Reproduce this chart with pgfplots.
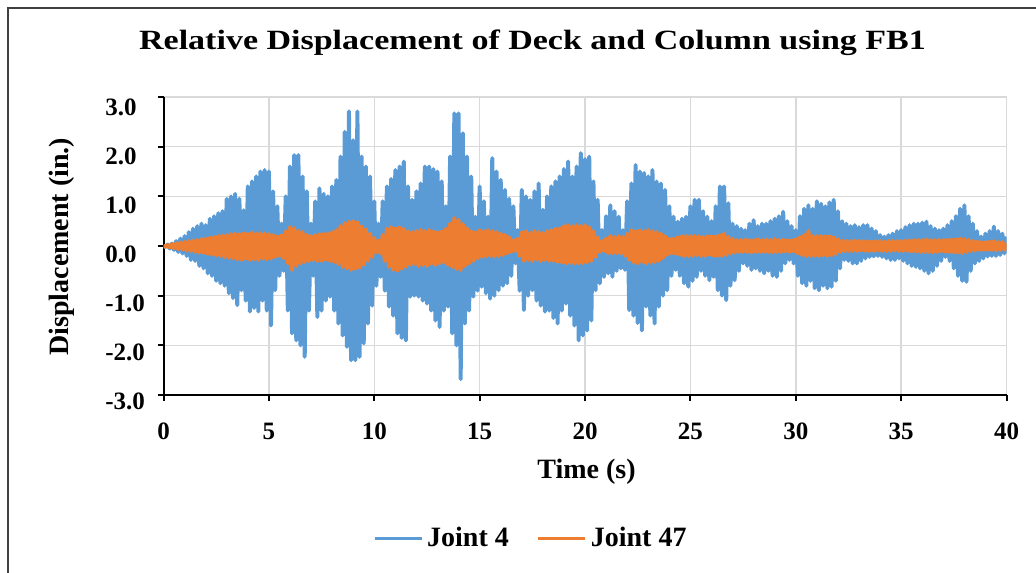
\documentclass[border=0pt]{standalone}
\usepackage{pgfplots}
\pgfplotsset{compat=1.18}
\usepackage{pgfplotstable}
\usepackage{fontspec}
\setmainfont{Liberation Serif}
\definecolor{jblue}{RGB}{91,155,213}
\definecolor{jorange}{RGB}{237,125,49}
\definecolor{gridgray}{RGB}{217,217,217}
\definecolor{framegray}{RGB}{64,64,64}

\pgfplotstableread{
t j4 j47
0.0 0 0
0.1 -0.02 -0.01
0.2 0.03 0.02
0.3 -0.05 -0.03
0.4 0.05 0.04
0.5 -0.08 -0.04
0.6 0.10 0.05
0.7 -0.12 -0.06
0.8 0.15 0.07
0.9 -0.15 -0.07
1.0 0.20 0.08
1.1 -0.20 -0.09
1.2 0.28 0.10
1.3 -0.28 -0.10
1.4 0.35 0.11
1.5 -0.30 -0.12
1.6 0.40 0.12
1.7 -0.40 -0.13
1.8 0.45 0.14
1.9 -0.45 -0.14
2.0 0.42 0.15
2.1 -0.55 -0.16
2.2 0.55 0.17
2.3 -0.60 -0.17
2.4 0.60 0.18
2.5 -0.70 -0.19
2.6 0.66 0.20
2.7 -0.75 -0.20
2.8 0.70 0.21
2.9 -0.80 -0.22
3.0 0.95 0.22
3.1 -0.95 -0.24
3.2 1.00 0.24
3.3 -1.05 -0.25
3.4 1.05 0.25
3.5 -1.19 -0.27
3.6 0.95 0.24
3.7 -0.89 -0.28
3.8 0.72 0.26
3.9 -1.10 -0.26
4.0 1.20 0.25
4.1 -1.32 -0.28
4.2 1.30 0.27
4.3 -1.25 -0.27
4.4 1.40 0.25
4.5 -1.32 -0.28
4.6 1.50 0.26
4.7 -1.10 -0.25
4.8 1.53 0.25
4.9 -1.30 -0.27
5.0 1.50 0.24
5.1 -1.60 -0.25
5.2 1.10 0.22
5.3 -0.89 -0.22
5.4 0.80 0.20
5.5 -0.60 -0.20
5.6 0.45 0.22
5.7 -0.50 -0.25
5.8 1.00 0.30
5.9 -1.30 -0.35
6.0 1.60 0.38
6.1 -1.76 -0.48
6.2 1.83 0.36
6.3 -1.90 -0.40
6.4 1.83 0.30
6.5 -2.00 -0.35
6.6 1.40 0.28
6.7 -2.23 -0.32
6.8 1.10 0.22
6.9 -1.30 -0.30
7.0 0.45 0.20
7.1 -0.60 -0.28
7.2 0.90 0.22
7.3 -1.43 -0.30
7.4 1.16 0.24
7.5 -1.30 -0.30
7.6 1.05 0.25
7.7 -1.10 -0.28
7.8 1.00 0.25
7.9 -1.02 -0.30
8.0 1.20 0.28
8.1 -1.30 -0.32
8.2 1.33 0.32
8.3 -1.56 -0.36
8.4 1.80 0.40
8.5 -1.80 -0.42
8.6 2.30 0.46
8.7 -2.03 -0.45
8.8 2.71 0.49
8.9 -2.30 -0.48
9.0 2.13 0.50
9.1 -2.30 -0.46
9.2 2.71 0.48
9.3 -2.23 -0.44
9.4 1.80 0.40
9.5 -1.96 -0.38
9.6 1.60 0.34
9.7 -1.56 -0.30
9.8 1.40 0.25
9.9 -1.20 -0.22
10.0 0.90 0.16
10.1 -0.80 -0.12
10.2 0.45 0.10
10.3 -0.62 -0.15
10.4 0.90 0.22
10.5 -0.90 -0.30
10.6 1.20 0.35
10.7 -1.22 -0.42
10.8 1.35 0.38
10.9 -1.40 -0.48
11.0 1.53 0.36
11.1 -1.76 -0.50
11.2 1.60 0.38
11.3 -1.85 -0.46
11.4 1.70 0.35
11.5 -1.90 -0.42
11.6 1.20 0.30
11.7 -1.02 -0.38
11.8 0.93 0.28
11.9 -1.00 -0.36
12.0 1.10 0.30
12.1 -1.02 -0.40
12.2 1.26 0.32
12.3 -1.10 -0.38
12.4 1.60 0.30
12.5 -1.16 -0.40
12.6 1.60 0.32
12.7 -1.30 -0.36
12.8 1.55 0.30
12.9 -1.50 -0.38
13.0 1.50 0.28
13.1 -1.63 -0.35
13.2 1.30 0.30
13.3 -1.30 -0.33
13.4 0.80 0.35
13.5 -1.22 -0.38
13.6 1.80 0.45
13.7 -1.76 -0.42
13.8 2.67 0.56
13.9 -2.00 -0.46
14.0 2.67 0.52
14.1 -2.68 -0.48
14.2 2.27 0.44
14.3 -1.56 -0.40
14.4 1.80 0.36
14.5 -1.30 -0.35
14.6 1.40 0.30
14.7 -1.02 -0.30
14.8 0.59 0.28
14.9 -0.90 -0.25
15.0 1.20 0.32
15.1 -0.82 -0.22
15.2 0.90 0.30
15.3 -0.95 -0.21
15.4 0.59 0.32
15.5 -1.06 -0.20
15.6 1.77 0.30
15.7 -1.00 -0.21
15.8 1.50 0.28
15.9 -0.89 -0.20
16.0 1.33 0.25
16.1 -0.80 -0.18
16.2 1.13 0.22
16.3 -0.75 -0.15
16.4 0.95 0.18
16.5 -0.60 -0.12
16.6 0.80 0.12
16.7 -0.35 -0.10
16.8 0.32 0.15
16.9 -0.90 -0.20
17.0 1.13 0.28
17.1 -1.29 -0.30
17.2 1.00 0.30
17.3 -1.00 -0.28
17.4 0.93 0.26
17.5 -0.89 -0.30
17.6 1.10 0.30
17.7 -1.10 -0.27
17.8 1.26 0.28
17.9 -1.20 -0.30
18.0 0.73 0.26
18.1 -1.32 -0.28
18.2 1.00 0.30
18.3 -1.30 -0.30
18.4 1.20 0.32
18.5 -1.45 -0.30
18.6 1.30 0.35
18.7 -1.56 -0.32
18.8 1.40 0.36
18.9 -1.30 -0.33
19.0 1.55 0.40
19.1 -1.16 -0.35
19.2 1.70 0.42
19.3 -1.40 -0.34
19.4 1.40 0.40
19.5 -1.60 -0.35
19.6 1.60 0.42
19.7 -1.90 -0.35
19.8 1.87 0.40
19.9 -1.80 -0.34
20.0 1.75 0.42
20.1 -1.70 -0.33
20.2 1.80 0.38
20.3 -1.50 -0.30
20.4 1.30 0.30
20.5 -0.89 -0.22
20.6 0.93 0.18
20.7 -0.75 -0.12
20.8 0.32 0.10
20.9 -0.62 -0.10
21.0 0.60 0.15
21.1 -0.55 -0.14
21.2 0.82 0.20
21.3 -0.62 -0.15
21.4 0.70 0.18
21.5 -0.50 -0.14
21.6 0.59 0.20
21.7 -0.45 -0.15
21.8 0.32 0.18
21.9 -0.48 -0.20
22.0 0.90 0.25
22.1 -1.29 -0.28
22.2 1.26 0.32
22.3 -1.40 -0.33
22.4 1.63 0.30
22.5 -1.55 -0.35
22.6 1.50 0.32
22.7 -1.70 -0.32
22.8 1.47 0.30
22.9 -1.22 -0.35
23.0 1.40 0.32
23.1 -1.40 -0.33
23.2 1.53 0.30
23.3 -1.56 -0.32
23.4 1.30 0.28
23.5 -1.22 -0.30
23.6 1.26 0.25
23.7 -1.00 -0.24
23.8 1.13 0.20
23.9 -0.89 -0.18
24.0 0.80 0.15
24.1 -0.60 -0.15
24.2 0.59 0.15
24.3 -0.48 -0.16
24.4 0.49 0.18
24.5 -0.60 -0.18
24.6 0.55 0.20
24.7 -0.75 -0.20
24.8 0.59 0.20
24.9 -0.82 -0.20
25.0 0.80 0.20
25.1 -0.70 -0.20
25.2 0.93 0.20
25.3 -0.62 -0.18
25.4 0.93 0.20
25.5 -0.50 -0.20
25.6 0.70 0.18
25.7 -0.60 -0.20
25.8 0.59 0.20
25.9 -0.69 -0.18
26.0 0.50 0.20
26.1 -0.62 -0.20
26.2 0.80 0.20
26.3 -0.89 -0.20
26.4 1.20 0.22
26.5 -1.00 -0.20
26.6 1.20 0.25
26.7 -1.09 -0.18
26.8 0.86 0.18
26.9 -0.80 -0.15
27.0 0.45 0.14
27.1 -0.69 -0.13
27.2 0.40 0.12
27.3 -0.50 -0.12
27.4 0.35 0.12
27.5 -0.35 -0.12
27.6 0.32 0.13
27.7 -0.40 -0.12
27.8 0.45 0.12
27.9 -0.48 -0.13
28.0 0.52 0.12
28.1 -0.45 -0.12
28.2 0.40 0.14
28.3 -0.50 -0.12
28.4 0.45 0.12
28.5 -0.55 -0.12
28.6 0.45 0.13
28.7 -0.50 -0.12
28.8 0.50 0.12
28.9 -0.60 -0.13
29.0 0.55 0.14
29.1 -0.62 -0.12
29.2 0.60 0.12
29.3 -0.50 -0.12
29.4 0.69 0.13
29.5 -0.35 -0.11
29.6 0.50 0.12
29.7 -0.28 -0.12
29.8 0.40 0.12
29.9 -0.35 -0.11
30.0 0.32 0.14
30.1 -0.60 -0.15
30.2 0.60 0.18
30.3 -0.75 -0.18
30.4 0.75 0.22
30.5 -0.80 -0.20
30.6 0.82 0.30
30.7 -0.70 -0.20
30.8 0.75 0.20
30.9 -0.85 -0.20
31.0 0.90 0.20
31.1 -0.89 -0.20
31.2 0.85 0.20
31.3 -0.80 -0.19
31.4 0.80 0.20
31.5 -0.85 -0.20
31.6 0.88 0.20
31.7 -0.82 -0.19
31.8 0.93 0.18
31.9 -0.70 -0.16
32.0 0.70 0.14
32.1 -0.45 -0.12
32.2 0.50 0.11
32.3 -0.28 -0.10
32.4 0.45 0.10
32.5 -0.30 -0.10
32.6 0.40 0.10
32.7 -0.35 -0.10
32.8 0.42 0.11
32.9 -0.35 -0.10
33.0 0.38 0.10
33.1 -0.30 -0.09
33.2 0.42 0.10
33.3 -0.25 -0.10
33.4 0.42 0.10
33.5 -0.22 -0.10
33.6 0.35 0.09
33.7 -0.21 -0.10
33.8 0.30 0.10
33.9 -0.20 -0.09
34.0 0.22 0.10
34.1 -0.22 -0.10
34.2 0.19 0.09
34.3 -0.25 -0.10
34.4 0.22 0.10
34.5 -0.28 -0.10
34.6 0.25 0.10
34.7 -0.28 -0.09
34.8 0.30 0.10
34.9 -0.25 -0.10
35.0 0.32 0.10
35.1 -0.30 -0.10
35.2 0.38 0.11
35.3 -0.35 -0.10
35.4 0.42 0.11
35.5 -0.40 -0.11
35.6 0.45 0.12
35.7 -0.42 -0.11
35.8 0.45 0.12
35.9 -0.45 -0.12
36.0 0.47 0.12
36.1 -0.50 -0.12
36.2 0.49 0.13
36.3 -0.55 -0.12
36.4 0.40 0.12
36.5 -0.50 -0.13
36.6 0.35 0.12
36.7 -0.40 -0.12
36.8 0.32 0.12
36.9 -0.30 -0.11
37.0 0.35 0.12
37.1 -0.22 -0.12
37.2 0.42 0.13
37.3 -0.30 -0.12
37.4 0.50 0.13
37.5 -0.45 -0.13
37.6 0.60 0.14
37.7 -0.60 -0.13
37.8 0.75 0.15
37.9 -0.70 -0.14
38.0 0.82 0.14
38.1 -0.72 -0.12
38.2 0.60 0.12
38.3 -0.50 -0.10
38.4 0.45 0.10
38.5 -0.35 -0.09
38.6 0.30 0.09
38.7 -0.30 -0.08
38.8 0.19 0.08
38.9 -0.25 -0.08
39.0 0.25 0.08
39.1 -0.21 -0.08
39.2 0.30 0.09
39.3 -0.20 -0.08
39.4 0.39 0.10
39.5 -0.20 -0.08
39.6 0.30 0.08
39.7 -0.18 -0.08
39.8 0.25 0.08
39.9 -0.15 -0.07
40.0 0.19 0.06
}\disp

\begin{document}
\begin{tikzpicture}
\useasboundingbox (0,0) rectangle (518pt,-286pt);
\clip (0,0) rectangle (518pt,-286pt);
\draw[framegray, line width=1.25pt] (4pt,-300pt) -- (4pt,-4pt) -- (530pt,-4pt);
\node[anchor=base, inner sep=0pt, font=\fontsize{17}{20}\selectfont\bfseries] at (266.25pt,-25pt) {\scalebox{1}[0.82]{Relative Displacement of Deck and Column using FB1}};
\begin{axis}[
  at={(81.75pt,-197.5pt)}, anchor=south west,
  width=421.5pt, height=149pt, scale only axis,
  xmin=0, xmax=40, ymin=-3, ymax=3,
  axis x line*=bottom, axis y line*=left,
  axis line style={black, line width=1pt, -},
  xtick={0,5,...,40}, ytick={-3,-2,...,3},
  xticklabels={0,5,10,15,20,25,30,35,40},
  yticklabels={-3.0,-2.0,-1.0,0.0,1.0,2.0,3.0},
  tick align=outside, major tick length=3pt,
  tick style={black, line width=1pt},
  grid=major, major grid style={gridgray, line width=0.75pt},
  ticklabel style={font=\fontsize{12.5}{14}\selectfont\bfseries},
  yticklabel style={anchor=west, inner sep=0pt, xshift=-26.25pt, yshift={-3pt-0.385pt*\ticknum}},
  xticklabel style={anchor=base, inner sep=0pt, yshift=-19pt},
  xlabel={Time (s)}, ylabel={Displacement (in.)},
  every axis x label/.style={at={(axis description cs:0.5018,-0.2785)}, anchor=base, inner sep=0pt, font=\fontsize{14}{16}\selectfont\bfseries},
  every axis y label/.style={at={(axis description cs:-0.1129,0.498)}, rotate=90, anchor=base, inner sep=0pt, font=\fontsize{14}{16}\selectfont\bfseries},
  legend style={at={(axis description cs:0.437,-0.48)}, anchor=center, draw=none, fill=none, font=\fontsize{14}{16}\selectfont\bfseries, /tikz/every even column/.append style={column sep=12pt}},
  legend columns=2,
  legend image code/.code={\draw[#1, line width=1.5pt] (0pt,0pt) -- (23.5pt,0pt);},
]
\addplot[jblue, line width=2pt, line join=round] table[x=t, y=j4] {\disp};
\addlegendentry{Joint 4}
\addplot[jorange, line width=2pt, line join=round] table[x=t, y=j47] {\disp};
\addlegendentry{Joint 47}
\end{axis}
\end{tikzpicture}
\end{document}
